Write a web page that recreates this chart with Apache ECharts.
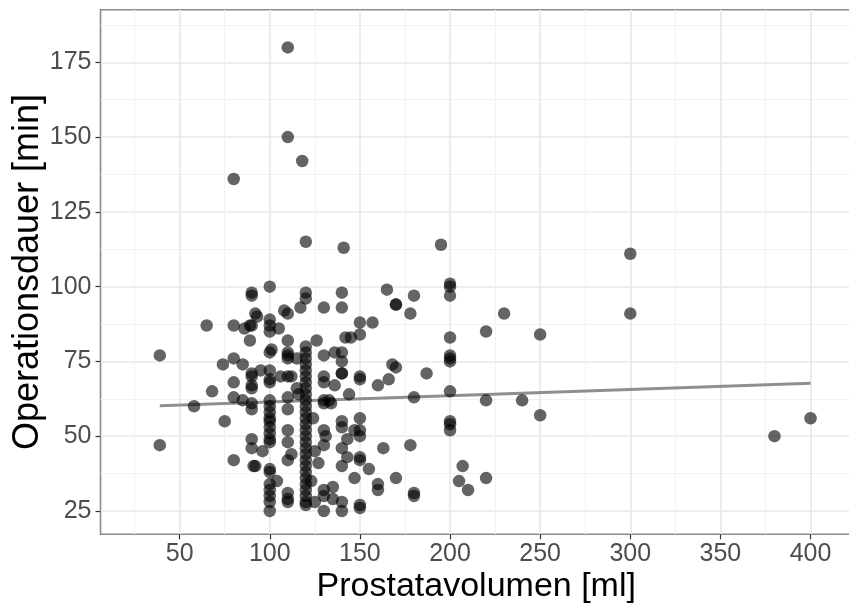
<!DOCTYPE html>
<html>
<head>
<meta charset="utf-8">
<script src="https://cdn.jsdelivr.net/npm/echarts@6/dist/echarts.min.js"></script>
<style>
html,body{margin:0;padding:0;background:#fff;}
#chart{width:849px;height:605px;}
</style>
</head>
<body>
<div id="chart"></div>
<script>
// ---- data ----
const volume = [
 110,110,118,80,120,141,195,300,300,250,230,220,400,380,250,240,220,220,207,205,210,39,39,
 200,200,200,200,200,200,200,200,200,200,200,
 180,178,180,178,180,180,
 165,170,170,168,170,166,160,163,170,160,160,155,187,
 150,157,150,150,150,150,150,150,150,150,150,150,147,147,
 140,140,142,145,136,140,140,140,140,136,144,134,140,140,143,140,143,140,135,140,140,
 130,126,130,130,130,130,130,133,130,131,130,127,130,130,130,135,
 120,120,120,120,120,120,120,120,120,120,120,120,120,120,120,120,120,120,120,120,120,120,120,120,120,120,120,120,120,120,117,115,115,116,124,125,123,125,
 110,108,110,110,110,110,112,110,110,110,110,110,112,110,110,110,110,
 100,100,100,100,105,101,100,100,100,100,106,100,100,100,100,100,100,100,100,100,100,100,100,100,100,100,100,104,95,96,
 90,90,92,93,89,90,86,89,90,90,90,90,90,90,90,90,91,92,85,85,
 80,80,80,80,80,74,75,68,65,58
];
const duration = [
 180,150,142,136,115,113,114,111,91,84,91,85,56,50,57,62,62,36,40,35,32,77,47,
 101,100,97,83,77,76,75,65,55,54,52,
 97,91,63,47,31,30,
 99,94,94,74,73,69,67,46,36,34,32,39,71,
 88,88,84,70,69,56,52,50,43,42,27,26,52,36,
 98,93,83,83,78,78,75,71,71,67,64,61,55,53,49,46,43,40,33,28,25,
 93,82,77,70,68,62,61,62,52,50,47,41,32,30,25,29,
 98,96,80,78,76,74,72,70,68,66,64,62,60,58,56,54,52,50,48,46,44,42,40,38,36,34,32,30,28,27,93,76,66,64,56,45,35,28,
 91,92,82,78,77,76,70,70,63,59,52,48,44,42,31,29,28,
 100,89,87,85,86,79,78,72,69,68,70,62,60,58,56,55,53,51,49,48,39,38,34,32,30,28,25,35,72,45,
 98,97,91,90,87,87,86,82,71,70,67,66,61,59,49,46,40,40,74,62,
 87,76,68,63,42,74,55,65,87,60
];
// fitted trend line
const trendX = [39, 400];
const trendY = [60.2, 67.7];
// axes
const xMajor = [50,100,150,200,250,300,350,400];
const xMinor = [25,75,125,175,225,275,325,375];
const yMajor = [25,50,75,100,125,150,175];
const yMinor = [37.5,62.5,87.5,112.5,137.5,162.5,187.5];
const xTitle = 'Prostatavolumen [ml]';
const yTitle = 'Operationsdauer [min]';

const XMIN = 6.1, XMAX = 423.0, YMIN = 17.2, YMAX = 192.6;

const points = volume.map((v, i) => [v, duration[i]]);
const trend = trendX.map((v, i) => [v, trendY[i]]);

const FONT = 'Liberation Sans, Arial, sans-serif';
const chart = echarts.init(document.getElementById('chart'), null, {renderer: 'canvas'});

function xAx(ticks, major) {
  return {
    type: 'value', min: XMIN, max: XMAX, position: 'bottom',
    axisLine: {show: false},
    axisTick: {show: major, customValues: ticks, length: 5, lineStyle: {color: '#333', width: 1.2}},
    axisLabel: {show: major, customValues: ticks, color: '#4d4d4d', fontSize: 25, fontFamily: FONT, margin: 7},
    splitLine: {show: true, lineStyle: {color: major ? '#e8e8e8' : '#f2f2f2', width: major ? 1.6 : 1.1}},
    name: major ? xTitle : '', nameLocation: 'middle', nameGap: 35, nameMoveOverlap: false,
    nameTextStyle: {fontSize: 34, color: '#000', fontFamily: FONT, verticalAlign: 'top'}
  };
}
function yAx(ticks, major) {
  return {
    type: 'value', min: YMIN, max: YMAX, position: 'left',
    axisLine: {show: false},
    axisTick: {show: major, customValues: ticks, length: 5, lineStyle: {color: '#333', width: 1.2}},
    axisLabel: {show: major, customValues: ticks, color: '#4d4d4d', fontSize: 25, fontFamily: FONT, margin: 9},
    splitLine: {show: true, lineStyle: {color: major ? '#e8e8e8' : '#f2f2f2', width: major ? 1.6 : 1.1}},
    name: major ? yTitle : '', nameLocation: 'middle', nameGap: 54, nameRotate: 90, nameMoveOverlap: false,
    nameTextStyle: {fontSize: 36, color: '#000', fontFamily: FONT}
  };
}

chart.setOption({
  animation: false,
  backgroundColor: '#fff',
  grid: {left: 100.5, top: 9.7, right: -3, bottom: 70.7, show: true, borderColor: '#8a8a8a', borderWidth: 1.6,
         backgroundColor: 'transparent', containLabel: false, outerBoundsMode: 'none'},
  xAxis: [xAx(xMajor, true), xAx(xMinor, false)],
  yAxis: [yAx(yMajor, true), yAx(yMinor, false)],
  series: [
    {type: 'line', data: trend, xAxisIndex: 0, yAxisIndex: 0, symbol: 'none', z: 2,
     lineStyle: {color: '#8f8f8f', width: 3}},
    {type: 'scatter', data: points, xAxisIndex: 0, yAxisIndex: 0, symbolSize: 12.5, z: 3,
     itemStyle: {color: 'rgba(0,0,0,0.76)'}}
  ]
});
</script>
</body>
</html>
